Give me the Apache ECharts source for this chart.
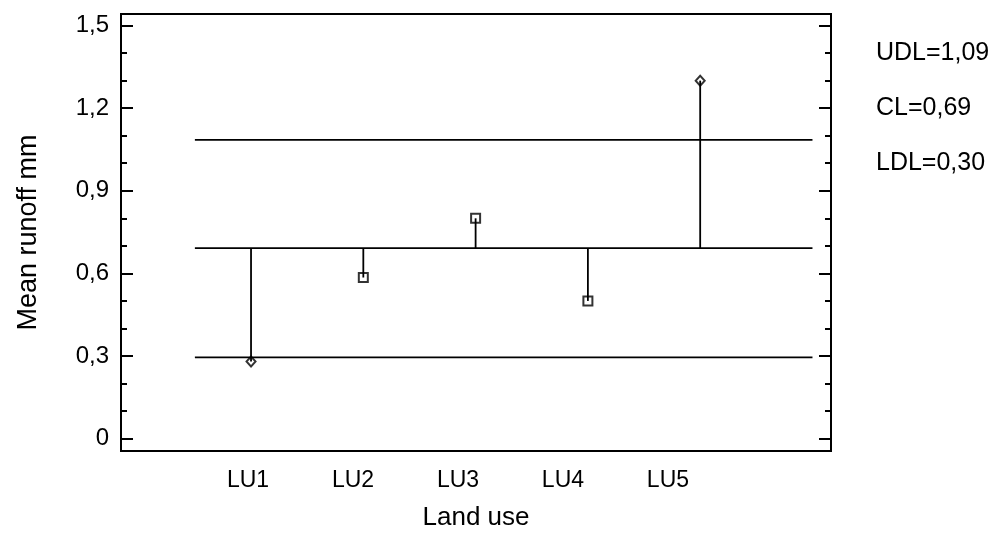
<!DOCTYPE html>
<html>
<head>
<meta charset="utf-8">
<script src="https://cdn.jsdelivr.net/npm/echarts@6/dist/echarts.min.js"></script>
<style>
  html, body { margin: 0; padding: 0; background: #fff; }
  #chart { width: 1000px; height: 536px; }
</style>
</head>
<body>
<div id="chart"></div>
<script>
// ---- data ----
const categories = ['LU1', 'LU2', 'LU3', 'LU4', 'LU5'];
const meanRunoff = [0.28, 0.585, 0.80, 0.50, 1.30];
const udl = 1.085;
const cl = 0.692;
const ldl = 0.295;
const limitLabels = ['UDL=1,09', 'CL=0,69', 'LDL=0,30'];
const yMajorTicks = [0, 0.3, 0.6, 0.9, 1.2, 1.5];
const yMinorTicks = [0.1, 0.2, 0.4, 0.5, 0.7, 0.8, 1.0, 1.1, 1.3, 1.4];
const limitSpan = [0.5, 6];

// ---- layout / style ----
const FONT = 'Liberation Sans, Arial, sans-serif';
const markerShapes = categories.map((c, i) => (i === 0 || i === categories.length - 1) ? 'diamond' : 'rect');
// category labels in the reference sit slightly left of their stems, progressively
const labelPos = categories.map((c, i) => +(0.973 + 0.935 * i).toFixed(3));

const yFmt = v => (Math.abs(v) < 1e-9 ? '0' : v.toFixed(1).replace('.', ','));

const yBase = {
  type: 'value', min: -0.045, max: 1.542,
  axisLine: { show: false, onZero: false }, splitLine: { show: false }
};

const chart = echarts.init(document.getElementById('chart'), null, { renderer: 'canvas' });

const limitSeries = (val) => ({
  type: 'line',
  data: [[limitSpan[0], val], [limitSpan[1], val]],
  symbol: 'none',
  lineStyle: { color: '#000', width: 1.8 },
  silent: true,
  z: 2
});

chart.setOption({
  animation: false,
  backgroundColor: '#fff',
  grid: {
    left: 121, right: 169, top: 14, bottom: 83,
    show: true, borderColor: '#000', borderWidth: 2, backgroundColor: 'transparent'
  },
  xAxis: [{
    type: 'value', min: -0.158, max: 6.165,
    axisLine: { show: false, onZero: false }, axisTick: { show: false }, splitLine: { show: false },
    axisLabel: {
      customValues: labelPos,
      formatter: v => {
        let best = 0, d = Infinity;
        labelPos.forEach((p, i) => { if (Math.abs(p - v) < d) { d = Math.abs(p - v); best = i; } });
        return categories[best];
      },
      color: '#000', fontFamily: FONT, fontSize: 23, margin: 18
    },
    name: 'Land use', nameLocation: 'middle', nameGap: 54,
    nameTextStyle: { color: '#000', fontFamily: FONT, fontSize: 26 }
  }],
  yAxis: [
    Object.assign({}, yBase, {
      position: 'left',
      axisTick: { inside: true, length: 12, customValues: yMajorTicks, lineStyle: { color: '#000', width: 2 } },
      axisLabel: { customValues: yMajorTicks, formatter: yFmt, color: '#000', fontFamily: FONT, fontSize: 24, margin: 12 },
      name: 'Mean runoff mm', nameLocation: 'middle', nameGap: 79,
      nameTextStyle: { color: '#000', fontFamily: FONT, fontSize: 27 }
    }),
    Object.assign({}, yBase, {
      position: 'left',
      axisTick: { inside: true, length: 6, customValues: yMinorTicks, lineStyle: { color: '#000', width: 2 } },
      axisLabel: { show: false }
    }),
    Object.assign({}, yBase, {
      position: 'right',
      axisTick: { inside: true, length: 12, customValues: yMajorTicks, lineStyle: { color: '#000', width: 2 } },
      axisLabel: { show: false }
    }),
    Object.assign({}, yBase, {
      position: 'right',
      axisTick: { inside: true, length: 6, customValues: yMinorTicks, lineStyle: { color: '#000', width: 2 } },
      axisLabel: { show: false }
    })
  ],
  series: [
    limitSeries(udl),
    limitSeries(cl),
    limitSeries(ldl),
    {
      type: 'custom',
      data: categories.map((c, i) => [i + 1, meanRunoff[i]]),
      renderItem: (params, api) => {
        const x = api.value(0), v = api.value(1);
        const p1 = api.coord([x, cl]);
        const p2 = api.coord([x, v]);
        return {
          type: 'line',
          shape: { x1: p1[0], y1: p1[1], x2: p2[0], y2: p2[1] },
          style: { stroke: '#000', lineWidth: 1.8 }
        };
      },
      silent: true,
      z: 3
    },
    {
      type: 'scatter',
      data: categories.map((c, i) => ({
        value: [i + 1, meanRunoff[i]],
        symbol: markerShapes[i],
        symbolSize: markerShapes[i] === 'diamond' ? [9, 10] : 9
      })),
      itemStyle: { color: 'rgba(0,0,0,0)', borderColor: '#000', borderWidth: 2 },
      silent: true,
      z: 4
    }
  ],
  graphic: limitLabels.map((t, i) => ({
    type: 'text',
    x: 876, y: 53 + 55 * i,
    style: { text: t, fill: '#000', font: '25px ' + FONT, verticalAlign: 'middle' }
  }))
});
</script>
</body>
</html>
